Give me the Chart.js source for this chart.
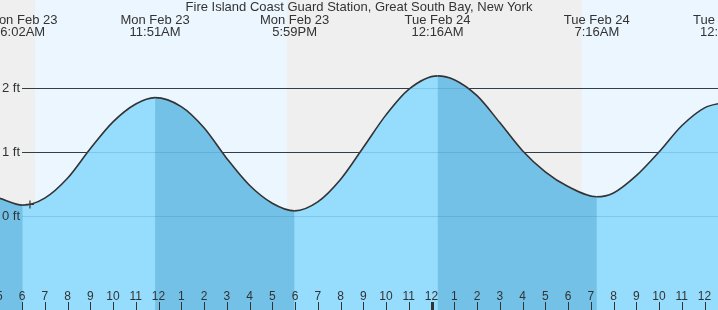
<!DOCTYPE html>
<html>
<head>
<meta charset="utf-8">
<script src="https://cdn.jsdelivr.net/npm/chart.js@4.4.1/dist/chart.umd.min.js"></script>
<style>
  html, body { margin: 0; padding: 0; background: #fff; }
  canvas { display: block; }
</style>
</head>
<body>
<canvas id="tide" width="718" height="310"></canvas>
<script>
// time is hours from Mon Feb 23 00:00, heights in ft
const hours   = [5.0, 6.033, 7, 8, 9, 10, 11, 11.85, 13, 14, 15, 16, 17, 17.983, 19, 20, 21, 22, 23, 24.267, 25, 26, 27, 28, 29, 30, 31.267, 32, 33, 34, 35, 36, 36.95];
const heights = [0.28, 0.17, 0.28, 0.59, 1.05, 1.47, 1.75, 1.85, 1.71, 1.38, 0.90, 0.48, 0.20, 0.08, 0.22, 0.57, 1.07, 1.58, 1.98, 2.19, 2.13, 1.88, 1.46, 1.02, 0.69, 0.46, 0.30, 0.36, 0.63, 1.00, 1.41, 1.69, 1.78];

// high / low tide events shown along the top
const eventHours = [6.033, 11.85, 17.983, 24.267, 31.267, 36.95];
const eventDays  = ['Mon Feb 23', 'Mon Feb 23', 'Mon Feb 23', 'Tue Feb 24', 'Tue Feb 24', 'Tue Feb 24'];
const eventTimes = ['6:02AM', '11:51AM', '5:59PM', '12:16AM', '7:16AM', '12:57PM'];

// daylight
const sunrise = [6.57, 30.6];
const sunset  = [17.65, 41.67];

// current time marker
const nowHour = [6.35];
const nowLevel = [0.18];

const ftTicks = [0, 1, 2];
const hourTicks = [];
for (let h = 5; h <= 37; h++) hourTicks.push(h);

const title = 'Fire Island Coast Guard Station, Great South Bay, New York';

const riseColor = 'rgb(150, 220, 253)';
const fallColor = 'rgb(115, 193, 230)';
const textColor = '#333';
const font = '"Liberation Sans", Arial, sans-serif';

const tidePoints = hours.map((h, i) => ({ x: h, y: heights[i] }));

function ftLines(chart, color) {
  const { ctx, chartArea: a, scales: { y } } = chart;
  ctx.save();
  ctx.strokeStyle = color;
  ctx.lineWidth = 1;
  ftTicks.forEach(v => {
    const py = Math.round(y.getPixelForValue(v)) + 0.5;
    ctx.beginPath();
    ctx.moveTo(22, py);
    ctx.lineTo(a.right, py);
    ctx.stroke();
  });
  ctx.restore();
}

const tideDecor = {
  id: 'tideDecor',
  beforeDatasetsDraw(chart) {
    const { ctx, chartArea: a, scales: { x } } = chart;
    ctx.save();
    ctx.fillStyle = '#efefef';
    ctx.fillRect(a.left, a.top, a.width, a.height);
    ctx.fillStyle = '#ecf6fe';
    sunrise.forEach((r, i) => {
      const x0 = x.getPixelForValue(r);
      const x1 = x.getPixelForValue(sunset[i]);
      ctx.fillRect(x0, a.top, x1 - x0, a.height);
    });
    ctx.restore();
    ftLines(chart, '#333');
  },
  afterDatasetsDraw(chart) {
    const { ctx, chartArea: a, scales: { x, y } } = chart;
    // grid shows faintly through the water
    ftLines(chart, 'rgba(40, 110, 160, 0.2)');

    ctx.save();
    ctx.fillStyle = textColor;
    ctx.strokeStyle = textColor;

    // ft labels
    ctx.font = '13px ' + font;
    ctx.textAlign = 'right';
    ctx.textBaseline = 'middle';
    ftTicks.forEach(v => ctx.fillText(v + ' ft', 20, y.getPixelForValue(v)));

    // hour ticks along the bottom
    ctx.font = '12px ' + font;
    ctx.textAlign = 'center';
    ctx.textBaseline = 'alphabetic';
    hourTicks.forEach(h => {
      const px = x.getPixelForValue(h);
      const label = String(((h + 11) % 12) + 1);
      ctx.fillText(label, px, a.bottom - 10);
      if (h % 24 === 0) {
        ctx.fillRect(Math.round(px) - 1, a.bottom - 8, 3, 8);
      } else {
        ctx.beginPath();
        ctx.moveTo(Math.round(px) + 0.5, a.bottom - 8);
        ctx.lineTo(Math.round(px) + 0.5, a.bottom);
        ctx.stroke();
      }
    });

    // title and event labels
    ctx.font = '13px ' + font;
    ctx.fillText(title, (a.left + a.right) / 2, 11);
    eventHours.forEach((h, i) => {
      const px = x.getPixelForValue(h);
      ctx.fillText(eventDays[i], px, 24);
      ctx.fillText(eventTimes[i], px, 36);
    });
    ctx.restore();
  }
};

new Chart(document.getElementById('tide'), {
  type: 'line',
  data: {
    datasets: [{
      label: 'Water',
      data: tidePoints,
      order: 2,
      borderWidth: 0,
      borderColor: 'rgba(0,0,0,0)',
      backgroundColor: riseColor,
      fill: 'start',
      pointRadius: 0,
      pointHoverRadius: 0,
      cubicInterpolationMode: 'monotone'
    }, {
      label: 'Tide',
      data: tidePoints,
      order: 1,
      borderColor: '#333',
      borderWidth: 1.6,
      backgroundColor: riseColor,
      fill: 'start',
      pointRadius: 0,
      pointHoverRadius: 0,
      cubicInterpolationMode: 'monotone',
      segment: {
        backgroundColor: c => c.p1.parsed.y < c.p0.parsed.y ? fallColor : riseColor
      }
    }, {
      label: 'Now',
      data: nowHour.map((h, i) => ({ x: h, y: nowLevel[i] })),
      order: 0,
      showLine: false,
      fill: false,
      pointStyle: 'cross',
      pointRadius: 4,
      borderColor: '#333',
      borderWidth: 1.2
    }]
  },
  options: {
    responsive: false,
    animation: false,
    layout: { padding: 0, autoPadding: false },
    plugins: { legend: { display: false }, tooltip: { enabled: false }, title: { display: false } },
    scales: {
      x: { type: 'linear', display: false, min: 5.033, max: 36.593 },
      y: { type: 'linear', display: false, min: -1.469, max: 3.375 }
    }
  },
  plugins: [tideDecor]
});
</script>
</body>
</html>
